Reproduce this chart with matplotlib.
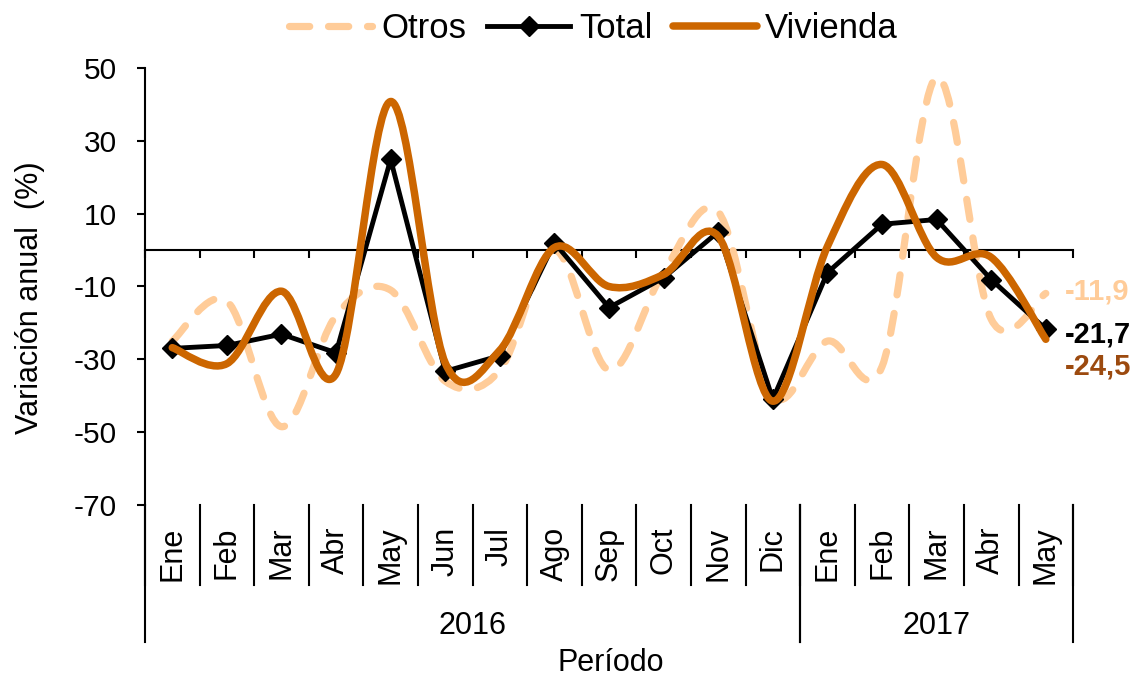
import numpy as np
import matplotlib
matplotlib.use('Agg')
import matplotlib.pyplot as plt
from matplotlib.path import Path
from matplotlib.patches import PathPatch
from matplotlib.lines import Line2D
from matplotlib.transforms import blended_transform_factory

plt.rcParams['font.family'] = ['Liberation Sans', 'DejaVu Sans']
plt.rcParams['axes.unicode_minus'] = False

months = ['Ene', 'Feb', 'Mar', 'Abr', 'May', 'Jun', 'Jul', 'Ago', 'Sep', 'Oct', 'Nov', 'Dic',
          'Ene', 'Feb', 'Mar', 'Abr', 'May']
years = ['2016', '2017']
year_spans = [(0, 12), (12, 17)]

otros = [-25, -14, -48.5, -18, -11, -36, -33, 0, -33, -6, 10.5, -40, -25, -32, 47.5, -19, -11.9]
total = [-27.0, -26.2, -23.1, -28.2, 24.9, -33.3, -29.0, 2.0, -15.8, -7.6, 5.0, -41.0,
         -6.2, 7.1, 8.4, -8.1, -21.7]
vivienda = [-26.8, -31.2, -11.3, -34.0, 40.8, -31.0, -27.5, 0.7, -10.0, -6.7, 3.8, -41.5,
            1.0, 23.5, -2.0, -2.0, -24.5]

C_OTROS = '#FFCC99'
C_TOTAL = '#000000'
C_VIV = '#CC6600'
C_VIV_LBL = '#9C4A0F'


def smooth_path(x, y):
    # cubic bezier through the points, like Excel's "smoothed line"
    pts = np.column_stack([x, y]).astype(float)
    n = len(pts)
    verts = [pts[0]]
    codes = [Path.MOVETO]
    for i in range(n - 1):
        p0 = pts[max(i - 1, 0)]
        p1 = pts[i]
        p2 = pts[i + 1]
        p3 = pts[min(i + 2, n - 1)]
        c1 = p1 + (p2 - p0) / 6.0
        c2 = p2 - (p3 - p1) / 6.0
        verts += [c1, c2, p2]
        codes += [Path.CURVE4] * 3
    return Path(verts, codes)


fig = plt.figure(figsize=(11.37, 6.8), dpi=100)
ax = fig.add_axes([0.1275, 0.2574, 0.8163, 0.6426])

x = np.arange(len(months)) + 0.5

p_otros = PathPatch(smooth_path(x, otros), fill=False, edgecolor=C_OTROS, lw=5.2,
                    linestyle=(0, (2.8, 2.6)), capstyle='round', joinstyle='round', zorder=3)
ax.add_patch(p_otros)
ax.plot(x, total, color=C_TOTAL, lw=3.5, marker='D', ms=10, zorder=4)
p_viv = PathPatch(smooth_path(x, vivienda), fill=False, edgecolor=C_VIV, lw=5.4,
                  capstyle='round', joinstyle='round', zorder=5)
ax.add_patch(p_viv)

ax.set_xlim(0, len(months))
ax.set_ylim(-70, 50)
ax.set_yticks(np.arange(-70, 51, 20))
ax.set_xticks(np.arange(len(months) + 1))
ax.set_xticklabels([])

for s in ['top', 'right']:
    ax.spines[s].set_visible(False)
ax.spines['bottom'].set_position(('data', 0))
ax.spines['bottom'].set_linewidth(1.5)
ax.spines['left'].set_linewidth(1.5)
ax.tick_params(axis='y', direction='out', length=6, width=1.5, labelsize=21.5, pad=14)
ax.tick_params(axis='x', direction='out', length=6, width=1.5)

ax.set_ylabel('Variación anual  (%)', fontsize=22)
ax.yaxis.set_label_coords(-0.108, 0.474)

# category labels below the plot
tr = blended_transform_factory(ax.transData, ax.transAxes)
for i, m in enumerate(months):
    ax.text(i + 0.5, -0.05, m, rotation=90, ha='center', va='top', fontsize=22, transform=tr)
for b in range(len(months) + 1):
    ax.add_line(Line2D([b, b], [0, -0.183], transform=tr, color='black', lw=1.5, clip_on=False))
for (a, b), yr in zip(year_spans, years):
    ax.text((a + b) / 2, -0.277, yr, ha='center', va='center', fontsize=22, transform=tr)
    for e in (a, b):
        ax.add_line(Line2D([e, e], [0, -0.3135], transform=tr, color='black', lw=1.5, clip_on=False))

fig.text(0.537, 0.025, 'Período', ha='center', va='center', fontsize=22)

# end labels
ax.text(16.85, -11.3, f'{otros[-1]:.1f}'.replace('.', ','), color=C_OTROS, fontsize=21,
        fontweight='bold', va='center', ha='left', clip_on=False)
ax.text(16.85, -23.1, f'{total[-1]:.1f}'.replace('.', ','), color=C_TOTAL, fontsize=21,
        fontweight='bold', va='center', ha='left', clip_on=False)
ax.text(16.85, -31.9, f'{vivienda[-1]:.1f}'.replace('.', ','), color=C_VIV_LBL, fontsize=21,
        fontweight='bold', va='center', ha='left', clip_on=False)

handles = [
    Line2D([], [], color=C_OTROS, lw=5.2, linestyle=(0, (2.8, 2.6)), dash_capstyle='round'),
    Line2D([], [], color=C_TOTAL, lw=3.5, marker='D', ms=10),
    Line2D([], [], color=C_VIV, lw=5.4, solid_capstyle='round'),
]
fig.legend(handles, ['Otros', 'Total', 'Vivienda'], loc='center', bbox_to_anchor=(0.522, 0.958),
           ncol=3, frameon=False, fontsize=25, handlelength=2.4, handletextpad=0.25,
           columnspacing=0.6, borderpad=0.1)

fig.savefig('out.png', dpi=100)
plt.close()
